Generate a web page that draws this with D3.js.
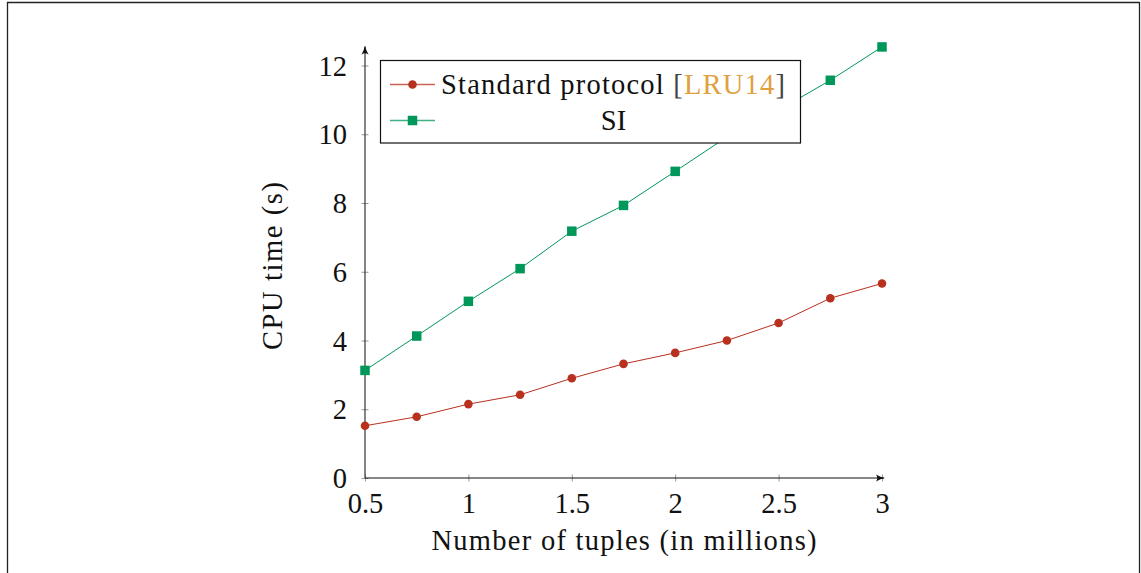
<!DOCTYPE html>
<html>
<head>
<meta charset="utf-8">
<script src="https://cdn.jsdelivr.net/npm/d3@7"></script>
<style>
  html, body { margin: 0; padding: 0; background: #fff; }
  svg { display: block; }
  text { font-family: "Liberation Serif", "DejaVu Serif", serif; }
</style>
</head>
<body>
<svg id="chart" width="1141" height="573"></svg>
<script>
const tuples = [0.5, 0.75, 1, 1.25, 1.5, 1.75, 2, 2.25, 2.5, 2.75, 3];
const standardTimes = [1.52, 1.78, 2.15, 2.42, 2.9, 3.32, 3.64, 4.0, 4.51, 5.23, 5.66];
const siTimes = [3.13, 4.13, 5.14, 6.09, 7.18, 7.93, 8.92, 9.92, 10.7, 11.57, 12.54];
const xTicks = [0.5, 1, 1.5, 2, 2.5, 3];
const xTickLabels = ["0.5", "1", "1.5", "2", "2.5", "3"];
const yTicks = [0, 2, 4, 6, 8, 10, 12];
const yTickLabels = ["0", "2", "4", "6", "8", "10", "12"];

const svg = d3.select("#chart");
const W = 1141, H = 573;
const fs = 28.5;
const serif = "Liberation Serif, DejaVu Serif, serif";

// outer frame
svg.append("path")
  .attr("d", `M7.5,${H} V2.5 H1139.5 V${H}`)
  .attr("fill", "none").attr("stroke", "#222").attr("stroke-width", 1.3);

const x = d3.scaleLinear().domain([0.5, 3]).range([365, 882]);
const y = d3.scaleLinear().domain([0, 12]).range([478, 65.5]);

const red = "#b8301e", green = "#00985a";

// ticks (cross the axis)
const g = svg.append("g");
const xAxis = d3.axisBottom(x).tickValues(xTicks).tickFormat((d, i) => xTickLabels[i]).tickSize(3.5);
const xa = g.append("g").attr("transform", `translate(0,${y(0)})`).call(xAxis);
xa.select(".domain").remove();
xa.selectAll(".tick line").attr("stroke", "#999").attr("y1", -3.5).attr("y2", 3.5);
xa.selectAll(".tick text").attr("font-size", fs).attr("fill", "#111")
  .attr("font-family", serif).attr("y", 35).attr("dy", 0);

const yAxis = d3.axisLeft(y).tickValues(yTicks).tickFormat((d, i) => yTickLabels[i]).tickSize(3.5).tickPadding(14.5);
const ya = g.append("g").attr("transform", `translate(${x(0.5)},0)`).call(yAxis);
ya.select(".domain").remove();
ya.selectAll(".tick line").attr("stroke", "#999").attr("x1", -3.5).attr("x2", 3.5);
ya.selectAll(".tick text").attr("font-size", fs).attr("fill", "#111")
  .attr("font-family", serif).attr("dy", "0.34em");

// axis lines with arrows
const defs = svg.append("defs");
defs.append("marker").attr("id", "arr").attr("viewBox", "0 0 10 10")
  .attr("refX", 9).attr("refY", 5).attr("markerWidth", 9).attr("markerHeight", 9)
  .attr("markerUnits", "userSpaceOnUse").attr("orient", "auto")
  .append("path").attr("d", "M0,1 Q5,4 10,5 Q5,6 0,9 Q3,5 0,1 Z").attr("fill", "#111");

svg.append("line").attr("x1", x(0.5)).attr("y1", y(0)).attr("x2", x(3) + 2).attr("y2", y(0))
  .attr("stroke", "#111").attr("stroke-width", 1.2).attr("marker-end", "url(#arr)");
svg.append("line").attr("x1", x(0.5)).attr("y1", y(0)).attr("x2", x(0.5)).attr("y2", y(12.55))
  .attr("stroke", "#333").attr("stroke-width", 1.2).attr("marker-end", "url(#arr)");

// series
const line = d3.line().x((d, i) => x(tuples[i])).y(d => y(d));
svg.append("path").datum(standardTimes).attr("d", line)
  .attr("fill", "none").attr("stroke", red).attr("stroke-width", 1);
svg.append("path").datum(siTimes).attr("d", line)
  .attr("fill", "none").attr("stroke", green).attr("stroke-width", 1);

svg.append("g").selectAll("circle").data(standardTimes).join("circle")
  .attr("cx", (d, i) => x(tuples[i])).attr("cy", d => y(d)).attr("r", 4.3).attr("fill", red);
const sq = 9.5;
svg.append("g").selectAll("rect").data(siTimes).join("rect")
  .attr("x", (d, i) => x(tuples[i]) - sq / 2).attr("y", d => y(d) - sq / 2)
  .attr("width", sq).attr("height", sq).attr("fill", green);

// legend
const lg = svg.append("g");
lg.append("rect").attr("x", 380.5).attr("y", 60.5).attr("width", 420).attr("height", 82.5)
  .attr("fill", "#fff").attr("stroke", "#111").attr("stroke-width", 1.2);
const rows = [{ c: red, y: 84.5, m: "circle" }, { c: green, y: 120.5, m: "square" }];
rows.forEach(r => {
  lg.append("line").attr("x1", 390).attr("x2", 435).attr("y1", r.y).attr("y2", r.y)
    .attr("stroke", r.c).attr("stroke-width", 1.3).attr("opacity", 0.75);
  if (r.m === "circle") lg.append("circle").attr("cx", 412.5).attr("cy", r.y).attr("r", 4.3).attr("fill", r.c);
  else lg.append("rect").attr("x", 412.5 - sq / 2).attr("y", r.y - sq / 2).attr("width", sq).attr("height", sq).attr("fill", r.c);
});
const t1 = lg.append("text").attr("x", 441).attr("y", 93.5)
  .attr("textLength", 344).attr("lengthAdjust", "spacing")
  .attr("font-size", fs).attr("fill", "#111");
t1.append("tspan").text("Standard protocol ");
t1.append("tspan").attr("fill", "#444").text("[");
t1.append("tspan").attr("fill", "#e0a040").text("LRU14");
t1.append("tspan").attr("fill", "#444").text("]");
lg.append("text").attr("x", 613.5).attr("y", 129.5)
  .attr("text-anchor", "middle").attr("font-size", fs).attr("fill", "#111").text("SI");

// axis labels
svg.append("text").attr("x", 431.5).attr("y", 549.5)
  .attr("textLength", 385).attr("lengthAdjust", "spacing")
  .attr("font-size", fs).attr("fill", "#111").text("Number of tuples (in millions)");
svg.append("text").attr("transform", `translate(282,350) rotate(-90)`)
  .attr("textLength", 168).attr("lengthAdjust", "spacing")
  .attr("font-size", fs).attr("fill", "#111").text("CPU time (s)");
</script>
</body>
</html>
